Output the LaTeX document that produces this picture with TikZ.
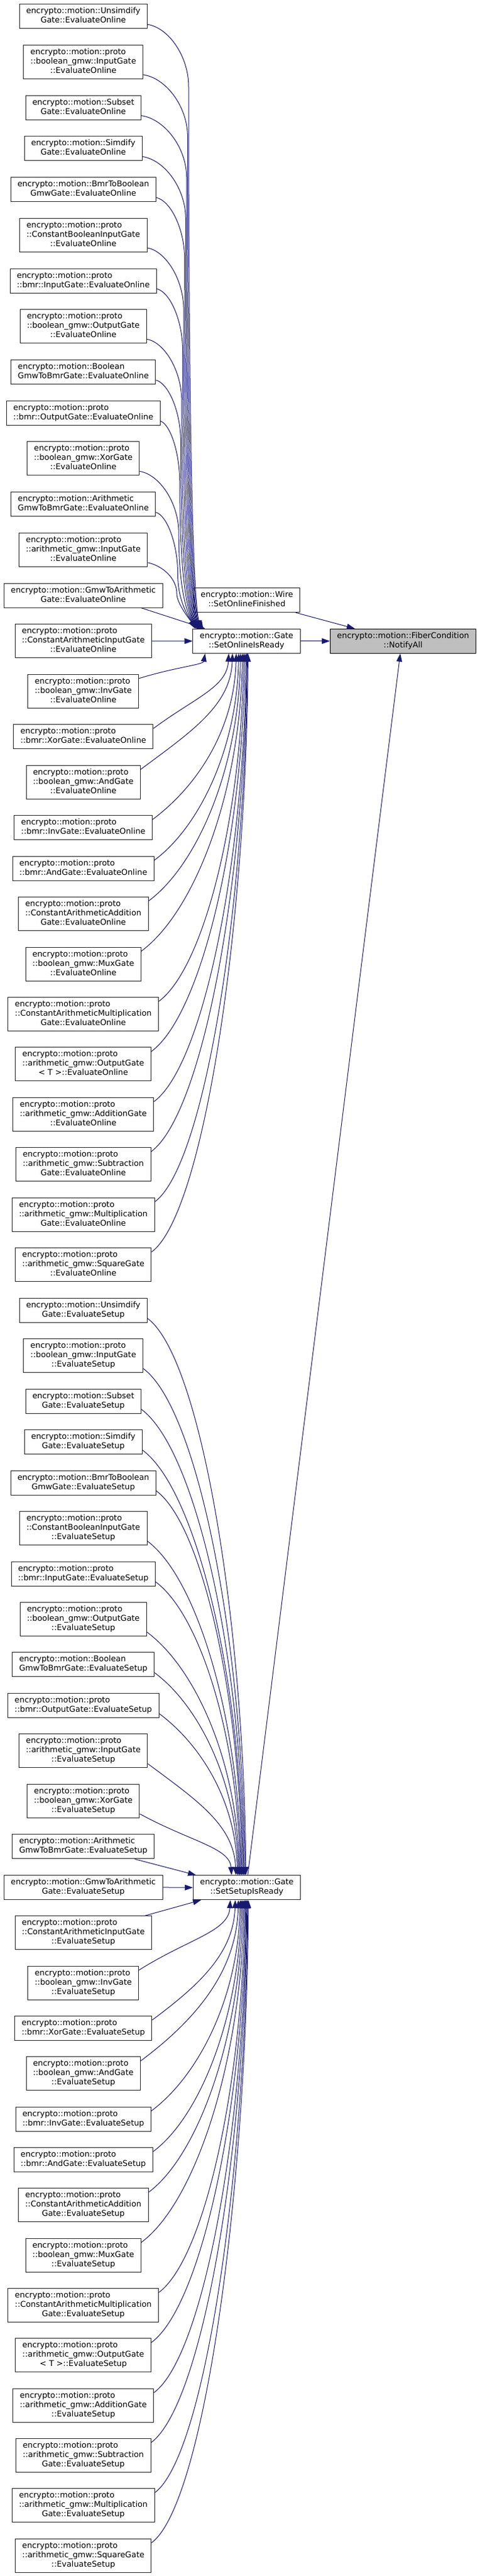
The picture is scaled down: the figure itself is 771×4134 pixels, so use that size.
\documentclass[tikz,border=0pt]{standalone}
\usepackage{fontspec}
\newfontfamily\djv{DejaVu Sans}
\usetikzlibrary{arrows.meta,calc}
\definecolor{edgecol}{HTML}{191970}
\definecolor{hl}{HTML}{BFBFBF}
\definecolor{bord}{HTML}{262626}
\newcommand\dlbl[2]{\begin{tabular}{@{}l@{}}#1\\\multicolumn{1}{@{}c@{}}{#2}\end{tabular}}
\tikzset{
  box/.style={draw=bord, line width=1pt, fill=white, inner xsep=11pt, inner ysep=2pt,
    font=\djv\fontsize{12.85}{15}\selectfont, text=black},
  edg/.style={draw=edgecol, line width=1pt, -{Triangle[length=13pt,width=9pt]}}
}
\newcommand\gn[3]{\node[box,anchor=north,minimum height={(#2-1)*15+24}] (#1) at (133.8,\cury+0.5) {#3};%
  \pgfmathsetmacro\tmpy{\cury+(#2-2)*15+\ptwo}\xdef\cury{\tmpy}}
% edge from a lower node up to the bottom of a target
\newcommand\upedge[3]{\draw[edg] let \p1=($(#1.north east)+(0,7)$), \p2=($(#2.south west)+(#3,0)$), \n1={\x2-\x1}, \n2={\y2-\y1} in
  (\p1) .. controls ({\x1+0.55*\n1},{\y1+min(0.45*\n2,0.41*\n1)}) and ({\x2-3pt},{\y2-0.45*\n2}) .. (\p2);}
% edge from an upper node down to the top of a target
\newcommand\downedge[3]{\draw[edg] let \p1=($(#1.south east)+(0,-7)$), \p2=($(#2.north west)+(#3,0)$), \n1={\x2-\x1}, \n2={\y1-\y2} in
  (\p1) .. controls ({\x1+0.55*\n1},{\y1-min(0.45*\n2,0.41*\n1)}) and ({\x2-3pt},{\y2+0.45*\n2}) .. (\p2);}
% bundled edge (online section, upper part)
\newcommand\upbundle[4]{\draw[edg] let \p1=($(#1.south east)+(0,-7)$), \p2=($(onl.north west)+(#3,0)$) in
  (\p1) .. controls ({\x1+0.5*(#2pt-\x1)},{\y1-5pt}) and ({#2pt},{\y1-0.5*#4pt}) .. ({#2pt},{\y1-#4pt})
  .. controls ({#2pt},{\y2+40pt}) and ({\x2-8pt},{\y2+14pt}) .. (\p2);}
\begin{document}
\begin{tikzpicture}[x=1pt,y=-1pt]
\fill[white] (0,0) rectangle (771,4134);
\useasboundingbox (0,0) rectangle (771,4134);
\gdef\cury{5.7}\gdef\ptwo{65.72}
% ---------- online callers ----------
\gn{o1}{2}{\dlbl{encrypto::motion::Unsimdify}{Gate::EvaluateOnline}}
\gn{o2}{3}{\dlbl{encrypto::motion::proto\\::boolean\_gmw::InputGate}{::EvaluateOnline}}
\gn{o3}{2}{\dlbl{encrypto::motion::Subset}{Gate::EvaluateOnline}}
\gn{o4}{2}{\dlbl{encrypto::motion::Simdify}{Gate::EvaluateOnline}}
\gn{o5}{2}{\dlbl{encrypto::motion::BmrToBoolean}{GmwGate::EvaluateOnline}}
\gn{o6}{3}{\dlbl{encrypto::motion::proto\\::ConstantBooleanInputGate}{::EvaluateOnline}}
\gn{o7}{2}{\dlbl{encrypto::motion::proto}{::bmr::InputGate::EvaluateOnline}}
\gn{o8}{3}{\dlbl{encrypto::motion::proto\\::boolean\_gmw::OutputGate}{::EvaluateOnline}}
\gn{o9}{2}{\dlbl{encrypto::motion::Boolean}{GmwToBmrGate::EvaluateOnline}}
\gn{o10}{2}{\dlbl{encrypto::motion::proto}{::bmr::OutputGate::EvaluateOnline}}
\gn{o11}{3}{\dlbl{encrypto::motion::proto\\::boolean\_gmw::XorGate}{::EvaluateOnline}}
\gn{o12}{2}{\dlbl{encrypto::motion::Arithmetic}{GmwToBmrGate::EvaluateOnline}}
\gn{o13}{3}{\dlbl{encrypto::motion::proto\\::arithmetic\_gmw::InputGate}{::EvaluateOnline}}
\gn{o14}{2}{\dlbl{encrypto::motion::GmwToArithmetic}{Gate::EvaluateOnline}}
\gdef\ptwo{65.46}
\gn{o15}{3}{\dlbl{encrypto::motion::proto\\::ConstantArithmeticInputGate}{::EvaluateOnline}}
\gn{o16}{3}{\dlbl{encrypto::motion::proto\\::boolean\_gmw::InvGate}{::EvaluateOnline}}
\gn{o17}{2}{\dlbl{encrypto::motion::proto}{::bmr::XorGate::EvaluateOnline}}
\gn{o18}{3}{\dlbl{encrypto::motion::proto\\::boolean\_gmw::AndGate}{::EvaluateOnline}}
\gn{o19}{2}{\dlbl{encrypto::motion::proto}{::bmr::InvGate::EvaluateOnline}}
\gn{o20}{2}{\dlbl{encrypto::motion::proto}{::bmr::AndGate::EvaluateOnline}}
\gn{o21}{3}{\dlbl{encrypto::motion::proto\\::ConstantArithmeticAddition}{Gate::EvaluateOnline}}
\gn{o22}{3}{\dlbl{encrypto::motion::proto\\::boolean\_gmw::MuxGate}{::EvaluateOnline}}
\gn{o23}{3}{\dlbl{encrypto::motion::proto\\::ConstantArithmeticMultiplication}{Gate::EvaluateOnline}}
\gn{o24}{3}{\dlbl{encrypto::motion::proto\\::arithmetic\_gmw::OutputGate}{< T >::EvaluateOnline}}
\gn{o25}{3}{\dlbl{encrypto::motion::proto\\::arithmetic\_gmw::AdditionGate}{::EvaluateOnline}}
\gn{o26}{3}{\dlbl{encrypto::motion::proto\\::arithmetic\_gmw::Subtraction}{Gate::EvaluateOnline}}
\gn{o27}{3}{\dlbl{encrypto::motion::proto\\::arithmetic\_gmw::Multiplication}{Gate::EvaluateOnline}}
\gn{o28}{3}{\dlbl{encrypto::motion::proto\\::arithmetic\_gmw::SquareGate}{::EvaluateOnline}}
% ---------- setup callers ----------
\gn{s1}{2}{\dlbl{encrypto::motion::Unsimdify}{Gate::EvaluateSetup}}
\gn{s2}{3}{\dlbl{encrypto::motion::proto\\::boolean\_gmw::InputGate}{::EvaluateSetup}}
\gn{s3}{2}{\dlbl{encrypto::motion::Subset}{Gate::EvaluateSetup}}
\gn{s4}{2}{\dlbl{encrypto::motion::Simdify}{Gate::EvaluateSetup}}
\gn{s5}{2}{\dlbl{encrypto::motion::BmrToBoolean}{GmwGate::EvaluateSetup}}
\gn{s6}{3}{\dlbl{encrypto::motion::proto\\::ConstantBooleanInputGate}{::EvaluateSetup}}
\gn{s7}{2}{\dlbl{encrypto::motion::proto}{::bmr::InputGate::EvaluateSetup}}
\gn{s8}{3}{\dlbl{encrypto::motion::proto\\::boolean\_gmw::OutputGate}{::EvaluateSetup}}
\gdef\ptwo{65.5}
\gn{s9}{2}{\dlbl{encrypto::motion::Boolean}{GmwToBmrGate::EvaluateSetup}}
\gn{s10}{2}{\dlbl{encrypto::motion::proto}{::bmr::OutputGate::EvaluateSetup}}
\gn{s11}{3}{\dlbl{encrypto::motion::proto\\::arithmetic\_gmw::InputGate}{::EvaluateSetup}}
\gn{s12}{3}{\dlbl{encrypto::motion::proto\\::boolean\_gmw::XorGate}{::EvaluateSetup}}
\gn{s13}{2}{\dlbl{encrypto::motion::Arithmetic}{GmwToBmrGate::EvaluateSetup}}
\gdef\ptwo{65.34}
\gn{s14}{2}{\dlbl{encrypto::motion::GmwToArithmetic}{Gate::EvaluateSetup}}
\gn{s15}{3}{\dlbl{encrypto::motion::proto\\::ConstantArithmeticInputGate}{::EvaluateSetup}}
\gn{s16}{3}{\dlbl{encrypto::motion::proto\\::boolean\_gmw::InvGate}{::EvaluateSetup}}
\gn{s17}{2}{\dlbl{encrypto::motion::proto}{::bmr::XorGate::EvaluateSetup}}
\gn{s18}{3}{\dlbl{encrypto::motion::proto\\::boolean\_gmw::AndGate}{::EvaluateSetup}}
\gn{s19}{2}{\dlbl{encrypto::motion::proto}{::bmr::InvGate::EvaluateSetup}}
\gn{s20}{2}{\dlbl{encrypto::motion::proto}{::bmr::AndGate::EvaluateSetup}}
\gn{s21}{3}{\dlbl{encrypto::motion::proto\\::ConstantArithmeticAddition}{Gate::EvaluateSetup}}
\gn{s22}{3}{\dlbl{encrypto::motion::proto\\::boolean\_gmw::MuxGate}{::EvaluateSetup}}
\gn{s23}{3}{\dlbl{encrypto::motion::proto\\::ConstantArithmeticMultiplication}{Gate::EvaluateSetup}}
\gn{s24}{3}{\dlbl{encrypto::motion::proto\\::arithmetic\_gmw::OutputGate}{< T >::EvaluateSetup}}
\gn{s25}{3}{\dlbl{encrypto::motion::proto\\::arithmetic\_gmw::AdditionGate}{::EvaluateSetup}}
\gn{s26}{3}{\dlbl{encrypto::motion::proto\\::arithmetic\_gmw::Subtraction}{Gate::EvaluateSetup}}
\gn{s27}{3}{\dlbl{encrypto::motion::proto\\::arithmetic\_gmw::Multiplication}{Gate::EvaluateSetup}}
\gn{s28}{3}{\dlbl{encrypto::motion::proto\\::arithmetic\_gmw::SquareGate}{::EvaluateSetup}}
% ---------- middle and right nodes ----------
\node[box,anchor=north,minimum height=39] (wire) at (396.5,943.2) {\dlbl{encrypto::motion::Wire}{::SetOnlineFinished}};
\node[box,anchor=north,minimum height=39] (onl) at (396,1008.8) {\dlbl{encrypto::motion::Gate}{::SetOnlineIsReady}};
\node[box,anchor=north,minimum height=39,fill=hl,draw=black] (ntf) at (647.5,1008.8) {\dlbl{encrypto::motion::FiberCondition}{::NotifyAll}};
\node[box,anchor=north,minimum height=39] (stp) at (396.5,3009.2) {\dlbl{encrypto::motion::Gate}{::SetSetupIsReady}};
% ---------- edges: online ----------
\upbundle{o1}{303.0}{17.0}{100}
\upbundle{o2}{301.4}{15.9}{100}
\upbundle{o3}{299.8}{14.8}{100}
\upbundle{o4}{298.3}{13.8}{100}
\upbundle{o5}{296.7}{12.7}{100}
\upbundle{o6}{295.1}{11.6}{100}
\upbundle{o7}{293.5}{10.5}{100}
\upbundle{o8}{291.9}{9.4}{100}
\upbundle{o9}{290.4}{8.4}{100}
\upbundle{o10}{288.8}{7.3}{100}
\upbundle{o11}{287.2}{6.2}{100}
\upbundle{o12}{285.6}{5.1}{100}
\upbundle{o13}{284.0}{4.0}{50}
\draw[edg] ($(o14.south east)+(-35,0)$) -- ($(onl.north west)+(20,0)$);
\draw[edg] (o15.east) -- (onl.west);
\upedge{o16}{onl}{20}
\upedge{o17}{onl}{58}
\upedge{o18}{onl}{64}
\upedge{o19}{onl}{70}
\upedge{o20}{onl}{74}
\upedge{o21}{onl}{77}
\upedge{o22}{onl}{80}
\upedge{o23}{onl}{82}
\upedge{o24}{onl}{84}
\upedge{o25}{onl}{86}
\upedge{o26}{onl}{87}
\upedge{o27}{onl}{88}
\upedge{o28}{onl}{89}
% ---------- edges: setup ----------
\downedge{s1}{stp}{85}
\downedge{s2}{stp}{83.5}
\downedge{s3}{stp}{82}
\downedge{s4}{stp}{80.5}
\downedge{s5}{stp}{79}
\downedge{s6}{stp}{77.5}
\downedge{s7}{stp}{76}
\downedge{s8}{stp}{74.5}
\downedge{s9}{stp}{73}
\downedge{s10}{stp}{71.5}
\downedge{s11}{stp}{69}
\downedge{s12}{stp}{62}
\draw[edg] ($(s13.south east)+(-32,0)$) -- ($(stp.north west)+(5,0)$);
\draw[edg] (s14.east) -- (stp.west);
\draw[edg] ($(s15.north east)+(-11,0)$) -- ($(stp.south west)+(13,0)$);
\upedge{s16}{stp}{60}
\upedge{s17}{stp}{68}
\upedge{s18}{stp}{73}
\upedge{s19}{stp}{76}
\upedge{s20}{stp}{78}
\upedge{s21}{stp}{80}
\upedge{s22}{stp}{82}
\upedge{s23}{stp}{83.5}
\upedge{s24}{stp}{85}
\upedge{s25}{stp}{86}
\upedge{s26}{stp}{87}
\upedge{s27}{stp}{88}
\upedge{s28}{stp}{89}
% ---------- edges into NotifyAll ----------
\draw[edg] ($(wire.south east)+(-7,0)$) -- ($(ntf.north west)+(40,0)$);
\draw[edg] (onl.east) -- (ntf.west);
\draw[edg] ($(stp.north west)+(88,0)$) -- ($(ntf.south west)+(113,0)$);
\end{tikzpicture}
\end{document}
